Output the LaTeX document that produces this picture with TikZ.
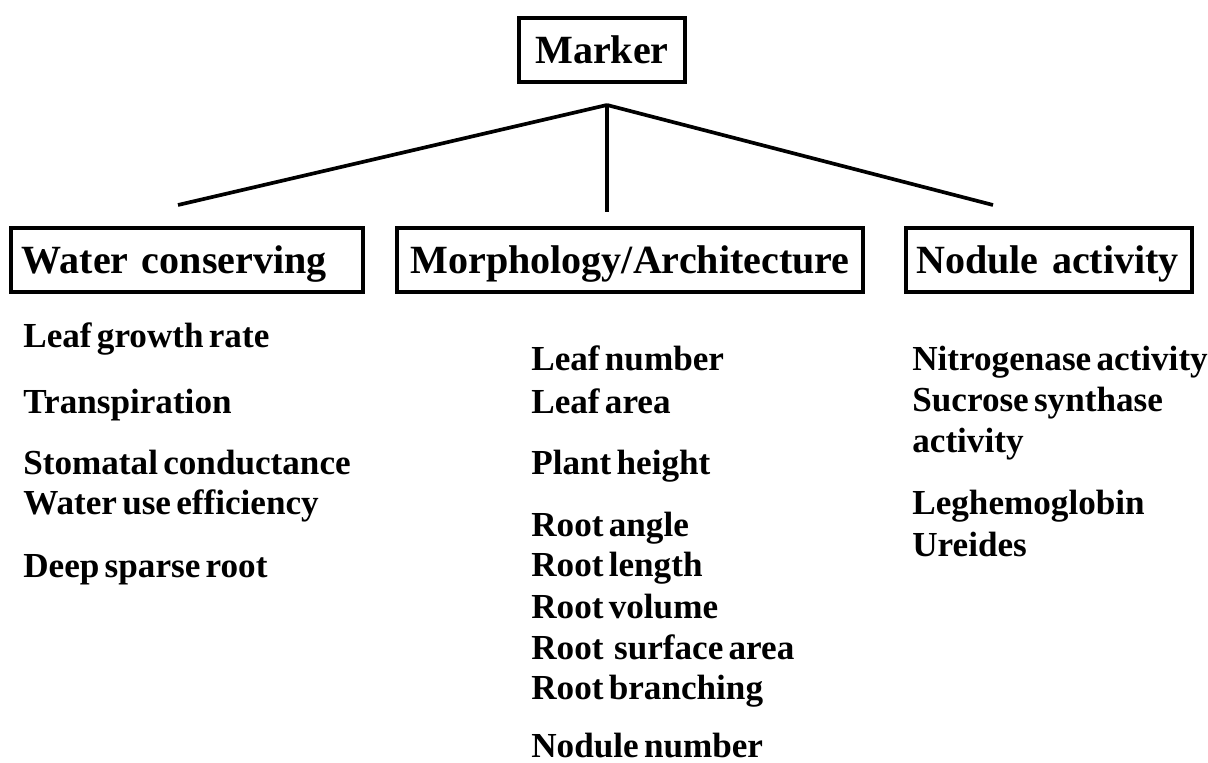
\documentclass[tikz,border=0pt]{standalone}
\usepackage{fontspec}
\setmainfont{Liberation Serif}
\newfontfamily\traitfont{Liberation Serif}[WordSpace=0.6]

\begin{document}
\begin{tikzpicture}[x=0.02cm,y=-0.02cm,
  group/.style={draw,line width=2.3pt,inner xsep=6pt,inner ysep=0pt,
    minimum height=36.4pt,text height=15pt,text depth=0pt,
    font=\fontsize{22.8}{26}\selectfont\bfseries},
  trait/.style={anchor=base west,inner sep=0pt,
    font=\traitfont\fontsize{20}{23}\selectfont\bfseries},
  branch/.style={line width=2.1pt}]
\useasboundingbox (0,0) rectangle (1208,763);

\node[group,text width=82pt,align=center](marker) at (602,50) {Marker};
\node[group,text width=188pt,align=left](water) at (187,260) {\mbox{Water conserving}};
\node[group,text width=253pt,align=center](morph) at (630,260) {\mbox{Morphology/Architecture}};
\node[group,text width=151pt,align=left](nodule) at (1049,260) {\mbox{Nodule activity}};

\coordinate(apex) at (607,105);
\coordinate(waterTop) at (178,205);
\coordinate(morphTop) at (607,212);
\coordinate(noduleTop) at (993,205);

\draw[branch] (apex) -- (waterTop);
\draw[branch] (apex) -- (morphTop);
\draw[branch] (apex) -- (noduleTop);

% water conserving
\node[trait](w1) at (23,348) {Leaf growth rate};
\node[trait](w2) at (23,414) {Transpiration};
\node[trait](w3) at (23,475) {Stomatal conductance};
\node[trait](w4) at (23,515) {Water use efficiency};
\node[trait](w5) at (23,578) {Deep sparse root};

% morphology / architecture
\node[trait](m1) at (531,371) {Leaf number};
\node[trait](m2) at (531,414) {Leaf area};
\node[trait](m3) at (531,475) {Plant height};
\node[trait](m4) at (531,537) {Root angle};
\node[trait](m5) at (531,577) {Root length};
\node[trait](m6) at (531,619) {Root volume};
\node[trait](m7) at (531,660) {Root~~surface area};
\node[trait](m8) at (531,700) {Root branching};
\node[trait](m9) at (531,757) {Nodule number};

% nodule activity
\node[trait](n1) at (912,371) {Nitrogenase activity};
\node[trait](n2) at (912,412) {Sucrose synthase};
\node[trait](n3) at (912,453) {activity};
\node[trait](n4) at (912,515) {Leghemoglobin};
\node[trait](n5) at (912,557) {Ureides};
\end{tikzpicture}
\end{document}
